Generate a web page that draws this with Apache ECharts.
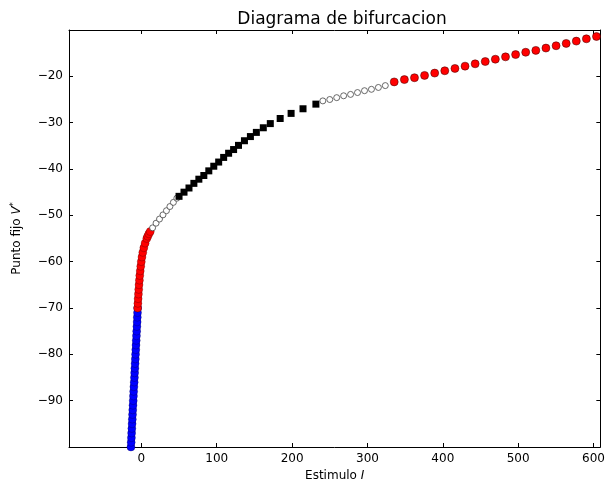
<!DOCTYPE html>
<html>
<head>
<meta charset="utf-8">
<script src="https://cdn.jsdelivr.net/npm/echarts@6/dist/echarts.min.js"></script>
<style>html,body{margin:0;padding:0;background:#fff;}#c{width:608px;height:487px;}</style>
</head>
<body>
<div id="c"></div>
<script>
// ---- data ----
var xTicks = [0, 100, 200, 300, 400, 500, 600];
var yTicks = [-90, -80, -70, -60, -50, -40, -30, -20];

var blueV = [-100,-99,-98,-97,-96,-95,-94,-93,-92,-91,-90,-89,-88,-87,-86,-85,-84,-83,-82,-81,-80,-79,-78,-77,-76,-75,-74,-73,-72,-71,-70];
var blueI = [-13.8,-13.5,-13.2,-12.9,-12.6,-12.3,-12.0,-11.7,-11.4,-11.1,-10.8,-10.5,-10.2,-9.9,-9.5,-9.2,-8.9,-8.6,-8.3,-8.0,-7.7,-7.4,-7.1,-6.8,-6.5,-6.2,-5.9,-5.6,-5.4,-5.1,-4.9];

var red1V = [-70,-69,-68,-67,-66,-65,-64,-63,-62,-61,-60,-59,-58,-57,-56,-55,-54.5,-54,-53.5];
var red1I = [-4.9,-4.6,-4.3,-3.9,-3.5,-3.1,-2.6,-2.1,-1.5,-0.8,-0.1,0.8,1.9,3.3,5.0,7.2,8.5,10.0,11.8];

var open1V = [-52.7,-51.7,-50.8,-49.9,-49.0,-48.1,-47.2,-46.3];
var open1I = [14.9,19.5,24.1,28.7,33.3,37.9,42.5,47.1];

var blackV = [-45.9,-45.0,-44.1,-43.1,-42.2,-41.4,-40.4,-39.4,-38.5,-37.5,-36.6,-35.8,-34.9,-33.9,-33.0,-32.1,-31.1,-30.2,-29.1,-28.0,-27.0,-26.0];
var blackI = [50.0,56.6,63.2,69.7,76.3,82.9,89.5,96.1,102.6,109.2,115.8,122.4,128.9,136.8,144.7,152.6,161.8,171.1,184.2,198.7,214.5,231.6];

var open2V = [-25.3,-25.0,-24.6,-24.2,-23.9,-23.5,-23.1,-22.8,-22.4,-22.0];
var open2I = [240.8,250.0,259.2,268.4,277.6,286.8,296.1,305.3,314.5,323.7];

var red2V = [-21.2,-20.7,-20.3,-19.8,-19.3,-18.8,-18.3,-17.8,-17.3,-16.8,-16.3,-15.8,-15.3,-14.8,-14.4,-13.9,-13.4,-12.9,-12.4,-11.9,-11.4];
var red2I = [335.5,349.0,362.4,375.8,389.2,402.6,416.1,429.5,442.9,456.3,469.7,483.2,496.6,510.0,523.4,536.8,550.3,563.7,577.1,590.5,603.9];

function pairs(xs, ys) { return xs.map(function (x, i) { return [x, ys[i]]; }); }

var FONT = 'DejaVu Sans';
function minus(v) { return String(v).replace('-', '\u2212'); }

var chart = echarts.init(document.getElementById('c'), null, { renderer: 'canvas' });

var baseX = {
  type: 'value', min: -96, max: 609,
  axisLine: { show: true, onZero: false, lineStyle: { color: '#000', width: 1 } },
  axisTick: { show: true, inside: true, length: 4, lineStyle: { color: '#000' }, customValues: xTicks },
  splitLine: { show: false }
};
var baseY = {
  type: 'value', min: -100, max: -10,
  axisLine: { show: true, onZero: false, lineStyle: { color: '#000', width: 1 } },
  axisTick: { show: true, inside: true, length: 4, lineStyle: { color: '#000' }, customValues: yTicks },
  splitLine: { show: false }
};

var option = {
  backgroundColor: '#fff',
  animation: false,
  title: {
    text: 'Diagrama de bifurcacion',
    left: 337, top: 6, textAlign: 'center',
    textStyle: { fontFamily: FONT, fontSize: 17, fontWeight: 'normal', color: '#000' }
  },
  grid: { left: 69, right: 3, top: 30, bottom: 39, containLabel: false },
  xAxis: [
    Object.assign({}, baseX, {
      position: 'bottom',
      axisLabel: { show: true, customValues: xTicks, margin: 6, color: '#000', fontFamily: FONT, fontSize: 12, formatter: minus },
      name: 'Estimulo {i|I}',
      nameLocation: 'middle', nameGap: 23,
      nameTextStyle: { fontFamily: FONT, fontSize: 12, color: '#000',
        rich: { i: { fontFamily: FONT, fontStyle: 'italic', fontSize: 12, color: '#000' } } }
    }),
    Object.assign({}, baseX, { position: 'top', axisLabel: { show: false } })
  ],
  yAxis: [
    Object.assign({}, baseY, {
      position: 'left',
      axisLabel: { show: true, customValues: yTicks, margin: 6, color: '#000', fontFamily: FONT, fontSize: 12, formatter: minus },
      name: 'Punto fijo {v|V}{s|*}',
      nameLocation: 'middle', nameGap: 45,
      nameTextStyle: { fontFamily: FONT, fontSize: 12, color: '#000',
        rich: { v: { fontFamily: FONT, fontStyle: 'italic', fontSize: 12, color: '#000' },
                s: { fontFamily: FONT, fontSize: 8, color: '#000', verticalAlign: 'top', padding: [0, 0, 6, 0] } } }
    }),
    Object.assign({}, baseY, { position: 'right', axisLabel: { show: false } })
  ],
  series: [
    { type: 'scatter', data: pairs(blueI, blueV), symbol: 'circle', symbolSize: 8,
      itemStyle: { color: '#0000ff', opacity: 1, borderColor: '#000033', borderWidth: 0.3 } },
    { type: 'scatter', data: pairs(red1I, red1V), symbol: 'circle', symbolSize: 8,
      itemStyle: { color: '#ff0000', opacity: 1, borderColor: '#330000', borderWidth: 0.3 } },
    { type: 'scatter', data: pairs(open1I, open1V), symbol: 'circle', symbolSize: 6,
      itemStyle: { color: '#ffffff', opacity: 1, borderColor: '#444', borderWidth: 0.8 } },
    { type: 'scatter', data: pairs(blackI, blackV), symbol: 'rect', symbolSize: 7,
      itemStyle: { color: '#000000', opacity: 1 } },
    { type: 'scatter', data: pairs(open2I, open2V), symbol: 'circle', symbolSize: 6,
      itemStyle: { color: '#ffffff', opacity: 1, borderColor: '#444', borderWidth: 0.8 } },
    { type: 'scatter', data: pairs(red2I, red2V), symbol: 'circle', symbolSize: 8,
      itemStyle: { color: '#ff0000', opacity: 1, borderColor: '#330000', borderWidth: 0.5 } }
  ]
};
chart.setOption(option);
</script>
</body>
</html>
